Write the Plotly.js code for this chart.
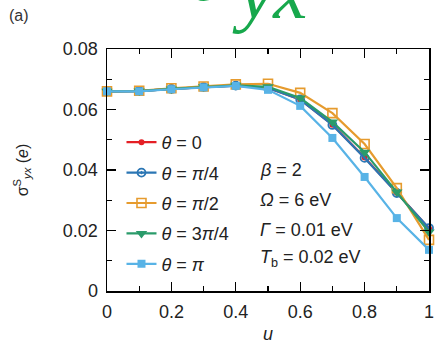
<!DOCTYPE html>
<html>
<head>
<meta charset="utf-8">
<script src="https://cdn.plot.ly/plotly-3.0.1.min.js"></script>
<style>
  html, body { margin: 0; padding: 0; background: #fff; }
  #chart { width: 437px; height: 344px; }
</style>
</head>
<body>
<div id="chart"></div>
<script>
// Spin Hall-like conductance sigma^S_yx versus u for several angles theta
const u = [0, 0.1, 0.2, 0.3, 0.4, 0.5, 0.6, 0.7, 0.8, 0.9, 1.0];

const sigmaTheta0      = [0.0660, 0.0661, 0.0668, 0.0674, 0.0679, 0.0671, 0.0633, 0.0550, 0.0441, 0.0325, 0.0207];
const sigmaThetaPi4    = [0.0660, 0.0661, 0.0668, 0.0674, 0.0679, 0.0671, 0.0633, 0.0549, 0.0440, 0.0324, 0.0208];
const sigmaThetaPi2    = [0.0660, 0.0662, 0.0670, 0.0676, 0.0683, 0.0685, 0.0655, 0.0588, 0.0486, 0.0340, 0.0169];
const sigmaTheta3Pi4   = [0.0660, 0.0661, 0.0668, 0.0675, 0.0680, 0.0675, 0.0638, 0.0559, 0.0459, 0.0327, 0.0195];
const sigmaThetaPi     = [0.0660, 0.0660, 0.0667, 0.0673, 0.0678, 0.0665, 0.0612, 0.0506, 0.0377, 0.0241, 0.0136];

const seriesNames = [
  '<i>θ</i> = 0',
  '<i>θ</i> = <i>π</i>/4',
  '<i>θ</i> = <i>π</i>/2',
  '<i>θ</i> = 3<i>π</i>/4',
  '<i>θ</i> = <i>π</i>'
];
const paramLabels = [
  '<i>β</i> = 2',
  '<i>Ω</i> = 6 eV',
  '<i>Γ</i> = 0.01 eV',
  '<i>T</i><sub>b</sub> = 0.02 eV'
];

const colors = ['#e41f25', '#2b76b4', '#e69b2e', '#2a9b6a', '#58b3e6'];
const markers = [
  {symbol: 'circle', size: 6},
  {symbol: 'circle-open-dot', size: 8, line: {width: 1.8}},
  {symbol: 'square-open', size: 9, line: {width: 1.6}},
  {symbol: 'triangle-down', size: 10},
  {symbol: 'square', size: 8}
];
const values = [sigmaTheta0, sigmaThetaPi4, sigmaThetaPi2, sigmaTheta3Pi4, sigmaThetaPi];

const traces = values.map((ys, i) => ({
  x: u,
  y: ys,
  name: seriesNames[i],
  legendgroup: 'g' + i,
  type: 'scatter',
  mode: 'lines+markers',
  cliponaxis: false,
  line: {color: colors[i], width: 2.2},
  marker: Object.assign({color: colors[i]}, markers[i])
}));

const textFont = {family: 'Liberation Sans, Arial, sans-serif', size: 18, color: '#222'};

const axisCommon = {
  showline: true,
  linecolor: '#000',
  linewidth: 1.5,
  mirror: 'ticks',
  ticks: 'inside',
  ticklen: 9,
  tickwidth: 1.3,
  tickcolor: '#000',
  showgrid: false,
  zeroline: false,
  tickfont: textFont,
  automargin: false
};

const xaxis = Object.assign({}, axisCommon, {
  range: [0, 1],
  dtick: 0.2,
  tick0: 0,
  ticklabelstandoff: 4,
  minor: {dtick: 0.1, ticks: 'inside', ticklen: 5, tickwidth: 1.3, tickcolor: '#000', showgrid: false},
  title: {text: '<i>u</i>', font: textFont, standoff: 12}
});

const yaxis = Object.assign({}, axisCommon, {
  range: [0, 0.08],
  dtick: 0.02,
  tick0: 0,
  ticklabelstandoff: 4,
  minor: {dtick: 0.01, ticks: 'inside', ticklen: 5, tickwidth: 1.3, tickcolor: '#000', showgrid: false},
  title: {text: 'σ<sup>S</sup><sub><i>yx</i></sub> (<i>e</i>)', font: {family: 'Liberation Sans, Arial, sans-serif', size: 16, color: '#222'}, standoff: 30}
});

const paramY = [0.5, 0.376, 0.252, 0.135];
const annotations = paramLabels.map((t, i) => ({
  text: t, xref: 'paper', yref: 'paper', x: 0.469, y: paramY[i],
  xanchor: 'left', yanchor: 'middle', showarrow: false,
  font: textFont
}));

annotations.push({
  text: '(a)', xref: 'paper', yref: 'paper', x: -0.31, y: 1.14,
  xanchor: 'left', yanchor: 'middle', showarrow: false,
  font: {family: 'Liberation Sans, Arial, sans-serif', size: 16, color: '#333'}
});
annotations.push({
  text: '<i>σ</i>', xref: 'paper', yref: 'paper', x: 0.315, y: 1.118,
  xanchor: 'center', yanchor: 'bottom', showarrow: false,
  font: {family: 'Liberation Serif, serif', size: 84, color: '#17a84c'}
});
annotations.push({
  text: '<i>yx</i>', xref: 'paper', yref: 'paper', x: 0.505, y: 1.05,
  xanchor: 'center', yanchor: 'bottom', showarrow: false,
  font: {family: 'Liberation Serif, serif', size: 77, color: '#17a84c'}
});

const layout = {
  width: 437,
  height: 344,
  margin: {l: 107, r: 8, t: 49, b: 53},
  paper_bgcolor: '#fff',
  plot_bgcolor: '#fff',
  xaxis: xaxis,
  yaxis: yaxis,
  showlegend: true,
  legend: {
    x: 0.045, y: 0.69, xanchor: 'left', yanchor: 'top',
    bgcolor: 'rgba(0,0,0,0)',
    font: textFont,
    tracegroupgap: 4,
    itemwidth: 30
  },
  annotations: annotations
};

Plotly.newPlot('chart', traces, layout, {staticPlot: true, displayModeBar: false});
</script>
</body>
</html>
